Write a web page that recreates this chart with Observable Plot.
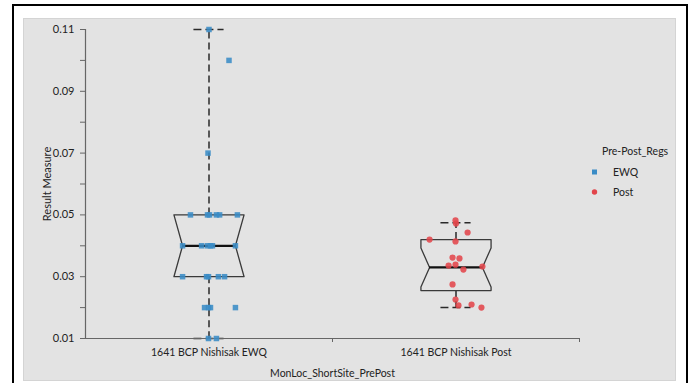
<!DOCTYPE html>
<html>
<head>
<meta charset="utf-8">
<script src="https://cdn.jsdelivr.net/npm/d3@7"></script>
<script src="https://cdn.jsdelivr.net/npm/@observablehq/plot@0.6"></script>
<style>
  html, body { margin: 0; padding: 0; background: #fff; }
  #wrap { position: relative; width: 691px; height: 383px; overflow: hidden; background: #fff; font-family: Lato, "Open Sans", sans-serif; }
  #border { position: absolute; left: 12px; top: 4px; width: 672px; height: 400px; border: 2px solid #000; border-bottom: none; }
  #panel { position: absolute; left: 23px; top: 18px; width: 651px; height: 361px; background: #e3e3e3; border: 1px solid #d4d4d4; }
  #chart { position: absolute; left: 0; top: 0; }
  #legend { position: absolute; left: 590px; top: 145px; font-size: 10.5px; color: #222; }
  #legend .title { position: absolute; left: 12px; top: 0; white-space: nowrap; }
  #legend .item { position: absolute; left: 0; white-space: nowrap; height: 14px; line-height: 14px; }
  #legend .item svg { position: absolute; left: 0; top: 2px; }
  #legend .item span { position: absolute; left: 23px; top: 0; }
</style>
</head>
<body>
<div id="wrap">
  <div id="border"></div>
  <div id="panel"></div>
  <div id="chart"></div>
  <div id="legend"></div>
</div>
<script>
// ---- data ----
const categories = ["1641 BCP Nishisak EWQ", "1641 BCP Nishisak Post"];
const groups = ["EWQ", "Post"];
const groupColors = ["#3a8cc6", "#e2454b"];

const ewqValues = [0.11, 0.10, 0.07,
  0.05, 0.05, 0.05, 0.05, 0.05, 0.05,
  0.04, 0.04, 0.04, 0.04, 0.04, 0.04,
  0.03, 0.03, 0.03, 0.03, 0.03,
  0.02, 0.02, 0.02, 0.02,
  0.01, 0.01];
const ewqJitter = [0, 0.081, -0.004,
  -0.075, -0.006, 0.002, 0.030, 0.043, 0.115,
  -0.107, -0.030, -0.006, 0.006, 0.014, 0.107,
  -0.107, -0.010, -0.002, 0.038, 0.063,
  -0.018, -0.002, 0.006, 0.107,
  -0.002, 0.030];

const postValues = [0.0482, 0.0472, 0.0443, 0.0420, 0.0414, 0.0362, 0.0359, 0.0336, 0.0339,
  0.0333, 0.0323, 0.0275, 0.0226, 0.0207, 0.0210, 0.0200];
const postJitter = [-0.002, 0.000, 0.047, -0.107, -0.002, -0.014, 0.014, -0.030, -0.002,
  0.107, 0.030, -0.014, -0.002, 0.010, 0.063, 0.103];

// box statistics
const q1 = [0.030, 0.0255];
const median = [0.040, 0.0330];
const q3 = [0.050, 0.0420];
const notchLow = [0.030, 0.0267];
const notchHigh = [0.050, 0.0393];
const whiskerLow = [0.010, 0.0200];
const whiskerHigh = [0.110, 0.0475];

const yTicks = [0.01, 0.02, 0.03, 0.04, 0.05, 0.06, 0.07, 0.08, 0.09, 0.10, 0.11];
const yTickLabels = ["0.01", "", "0.03", "", "0.05", "", "0.07", "", "0.09", "", "0.11"];

// ---- build tables ----
const boxHalf = 0.142, notchHalf = 0.107, capHalf = 0.061;
const points = [
  ...ewqValues.map((v, i) => ({group: "EWQ", x: 0 + ewqJitter[i], y: v})),
  ...postValues.map((v, i) => ({group: "Post", x: 1 + postJitter[i], y: v}))
];
const boxes = categories.map((c, i) => ({i, q1: q1[i], med: median[i], q3: q3[i], nl: notchLow[i], nh: notchHigh[i], wl: whiskerLow[i], wh: whiskerHigh[i]}));
const outline = boxes.flatMap(b => [
  [b.i - boxHalf, b.q3], [b.i + boxHalf, b.q3], [b.i + boxHalf, b.nh], [b.i + notchHalf, b.med],
  [b.i + boxHalf, b.nl], [b.i + boxHalf, b.q1], [b.i - boxHalf, b.q1], [b.i - boxHalf, b.nl],
  [b.i - notchHalf, b.med], [b.i - boxHalf, b.nh], [b.i - boxHalf, b.q3]
].map(([x, y]) => ({box: b.i, x, y})));

const dark = "#2a2a2a";
const chart = Plot.plot({
  width: 691,
  height: 383,
  marginLeft: 85,
  marginRight: 112,
  marginTop: 29,
  marginBottom: 45,
  style: {background: "transparent", fontFamily: "Lato, 'Open Sans', sans-serif", fontSize: "10.5px", color: "#222", overflow: "visible"},
  x: {domain: [-0.5, 1.5]},
  y: {domain: [0.01, 0.11]},
  marks: [
    // whiskers
    Plot.ruleX(boxes, {x: "i", y1: "q3", y2: "wh", stroke: dark, strokeWidth: 1.5, strokeDasharray: "7,4"}),
    Plot.ruleX(boxes, {x: "i", y1: "q1", y2: "wl", stroke: dark, strokeWidth: 1.5, strokeDasharray: "7,4"}),
    Plot.ruleY(boxes, {y: "wh", x1: d => d.i - capHalf, x2: d => d.i + capHalf, stroke: dark, strokeWidth: 1.5, strokeDasharray: "8,4"}),
    Plot.ruleY(boxes, {y: "wl", x1: d => d.i - capHalf, x2: d => d.i + capHalf, stroke: dark, strokeWidth: 1.5, strokeDasharray: "8,4"}),
    // notched box
    Plot.line(outline, {x: "x", y: "y", z: "box", stroke: "#3a3a3a", strokeWidth: 1.3, fill: "#e3e3e3"}),
    Plot.ruleY(boxes, {y: "med", x1: d => d.i - notchHalf, x2: d => d.i + notchHalf, stroke: "#111", strokeWidth: 2.2}),
    // axes lines
    Plot.ruleX([-0.5], {y1: 0.01, y2: 0.11, stroke: "#666", strokeWidth: 1.2}),
    Plot.ruleY([0.01], {stroke: "#666", strokeWidth: 1.2}),
    Plot.axisY({ticks: yTicks, tickFormat: (d, i) => yTickLabels[i], tickSize: 5, tickPadding: 6, stroke: "#666",
      label: "Result Measure", labelAnchor: "center", labelOffset: 42, labelArrow: "none", fontSize: "11px"}),
    Plot.axisX({ticks: [0.5, 1.5], tickFormat: () => "", tickSize: 4, stroke: "#666", label: null}),
    Plot.axisX({ticks: [0, 1], tickFormat: (d) => categories[d], tickSize: 0, tickPadding: 10,
      label: "MonLoc_ShortSite_PrePost", labelAnchor: "center", labelOffset: 38, labelArrow: "none", fontSize: "10.5px"}),
    // points
    Plot.dot(points, {x: "x", y: "y", symbol: d => d.group === "EWQ" ? "square" : "circle",
      fill: d => d.group === "EWQ" ? groupColors[0] : groupColors[1], r: 3.1, fillOpacity: 0.88})
  ],
  symbol: {type: "identity"}
});
document.getElementById("chart").appendChild(chart);

// legend
const legend = document.getElementById("legend");
const title = document.createElement("div");
title.className = "title";
title.textContent = "Pre-Post_Regs";
legend.appendChild(title);
groups.forEach((g, i) => {
  const it = document.createElement("div");
  it.className = "item";
  it.style.top = (20 + i * 20) + "px";
  const shape = i === 0
    ? `<rect x="2" y="2.5" width="5" height="5" fill="${groupColors[i]}"/>`
    : `<circle cx="4.5" cy="5" r="2.7" fill="${groupColors[i]}"/>`;
  it.innerHTML = `<svg width="10" height="10">${shape}</svg><span>${g}</span>`;
  legend.appendChild(it);
});
</script>
</body>
</html>
